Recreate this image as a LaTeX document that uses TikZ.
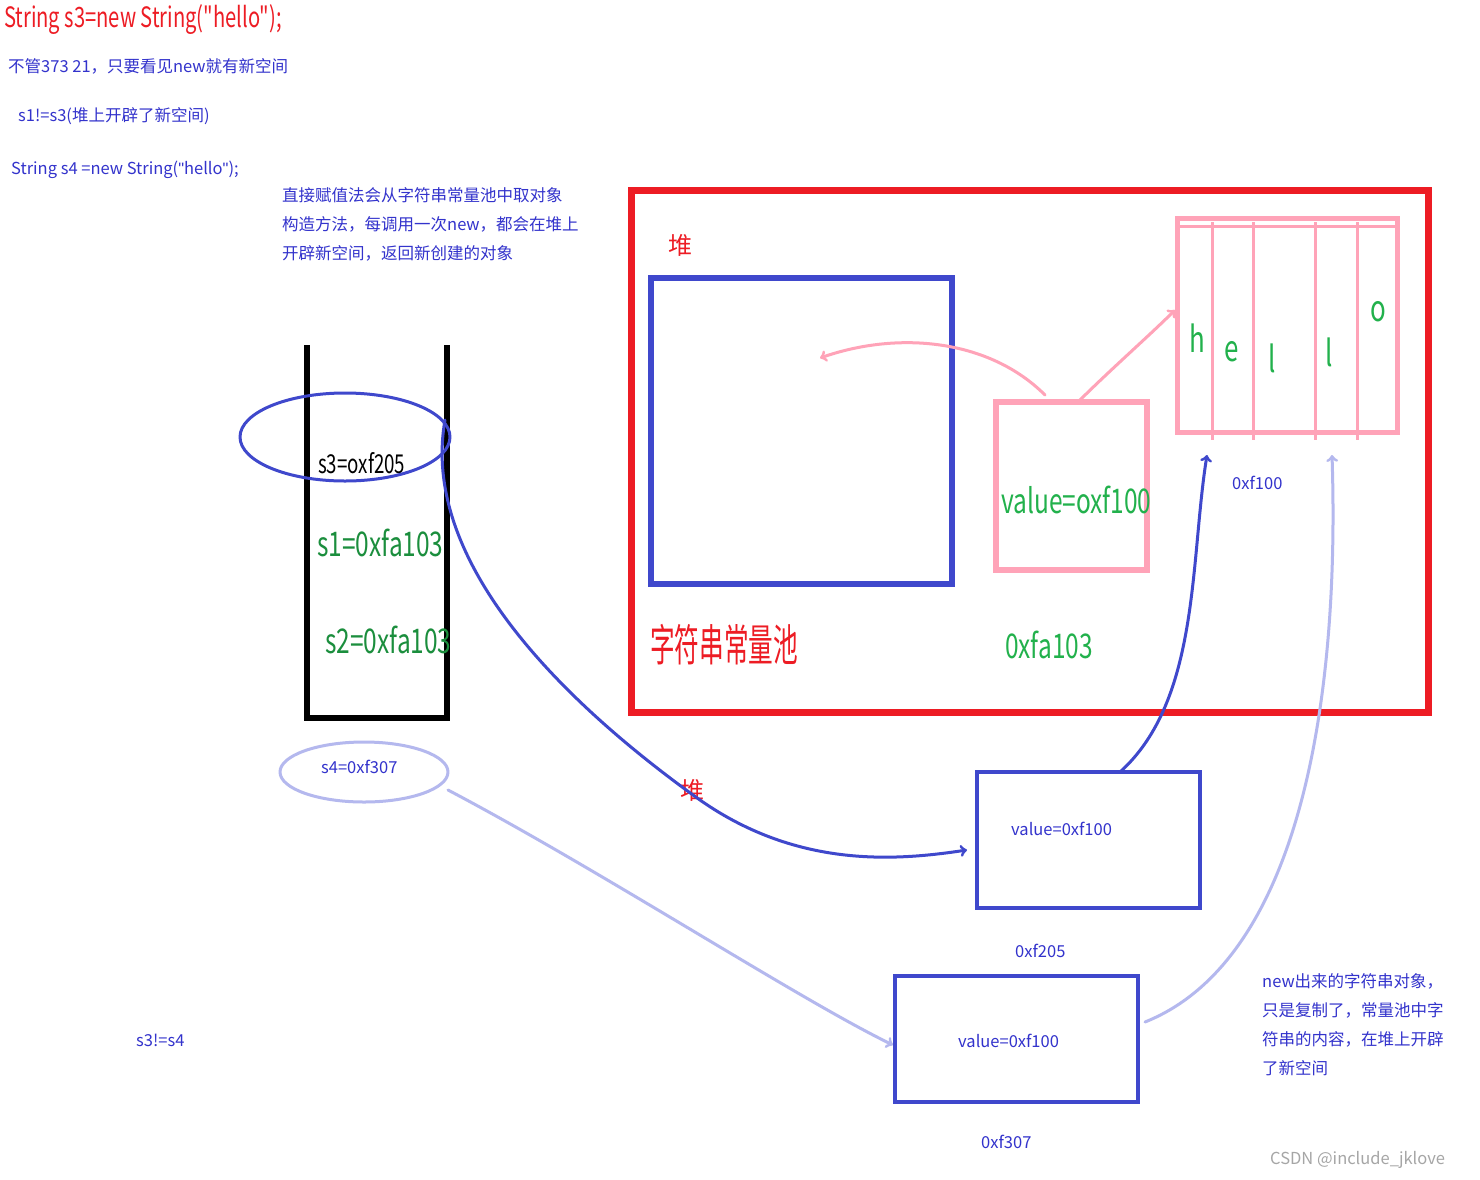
\documentclass[tikz,border=0pt]{standalone}
\usepackage{fontspec}
\setmainfont{Noto Sans CJK SC}
\newfontfamily\cond{Noto Sans CJK SC}[FakeStretch=0.72]
\newfontfamily\condcjk{Noto Sans CJK SC}[FakeStretch=0.56]
\newfontfamily\latn{Liberation Sans}
\usetikzlibrary{positioning}
\definecolor{txtblue}{HTML}{3333CC}
\definecolor{penblue}{HTML}{3F48CC}
\definecolor{lightpen}{HTML}{B4B8EE}
\definecolor{pinkpen}{HTML}{FFA3B8}
\definecolor{redpen}{HTML}{ED1C24}
\definecolor{greenpen}{HTML}{22B14C}
\newcommand{\dq}{\symbol{34}}
\newcommand{\ndq}{{\latn\symbol{34}}}
\tikzset{
  note/.style={anchor=west,inner sep=0pt,text=txtblue,font=\fontsize{16.5}{18}\selectfont},
  big/.style={anchor=west,inner sep=0pt,font=\cond\fontsize{34}{36}\selectfont},
  pen/.style={line width=3pt,line cap=round,line join=round},
}
\begin{document}
\begin{tikzpicture}[x=1pt,y=-1pt]
\useasboundingbox[fill=white] (0,0) rectangle (1480,1179);
% header notes
\node[anchor=west,inner sep=0pt,text=redpen,font=\cond\fontsize{28}{30}\selectfont] (title) at (4,20) {String s3=new String(\dq hello\dq);};
\node[note] (n1) at (8,66) {不管373 21，只要看见new就有新空间};
\node[note] (n2) at (18,116) {s1!=s3(堆上开辟了新空间)};
\node[note] (n3) at (11,170) {String s4 =new String(\ndq hello\ndq);};
\node[note] (n4) at (282,195) {直接赋值法会从字符串常量池中取对象};
\node[note] (n5) at (282,224) {构造方法，每调用一次new，都会在堆上};
\node[note] (n6) at (282,253) {开辟新空间，返回新创建的对象};
% stack
\draw[line width=6pt] (307,345) -- (307,718) -- (447,718) -- (447,345);
\node[anchor=west,inner sep=0pt,font=\cond\fontsize{26}{28}\selectfont] (s3) at (318,463) {s3=oxf205};
\node[big,text=greenpen!80!black] (s1) at (317,543) {s1=0xfa103};
\node[big,text=greenpen!80!black] (s2) at (325,640) {s2=0xfa103};
\draw[penblue,pen] (345,437) ellipse (105 and 44);
% heap
\draw[redpen,line width=7pt] (631,190) rectangle (1428,712);
\node[anchor=west,inner sep=0pt,text=redpen,font=\fontsize{24}{26}\selectfont] (heap) at (668,245) {堆};
\draw[penblue,line width=6pt] (651,278) rectangle (952,584);
\node[big,text=redpen,font=\condcjk\fontsize{44}{46}\selectfont] (pool) at (650,645) {字符串常量池};
\draw[pinkpen,line width=6pt] (996,402) rectangle (1147,570);
\node[big,text=greenpen] (val) at (1001,500) {value=oxf100};
\node[big,text=greenpen] (addr) at (1005,645) {0xfa103};
\draw[pinkpen,line width=5pt] (1177,218) rectangle (1397,432);
\draw[pinkpen,line width=3pt] (1177,226) -- (1397,226);
\foreach \c/\x/\y in {h/1197/338,e/1232/352,l/1272/358,l/1329/352,o/1378/312}
  \node[text=greenpen,font=\cond\fontsize{36}{38}\selectfont] (ch\x) at (\x,\y) {\c};
\foreach \x in {1212,1253,1315,1357}
  \draw[pinkpen,line width=3pt] (\x,222) -- (\x,440);
\node[note] (a100) at (1232,483) {0xf100};
\coordinate (vt1) at (1045,395);
\coordinate (vt2) at (1078,402);
\coordinate (pooltip) at (820,358);
\coordinate (arrtip) at (1175,310);
\draw[pinkpen,pen,->] (vt1) .. controls (990,340) and (900,330) .. (pooltip);
\draw[pinkpen,pen,->] (vt2) .. controls (1110,370) and (1150,335) .. (arrtip);
% objects on heap
\draw[penblue,line width=3.5pt] (977,772) rectangle (1200,908);
\node[note] (o1) at (1011,829) {value=0xf100};
\node[note] (a205) at (1015,951) {0xf205};
\draw[penblue,line width=3.5pt] (895,976) rectangle (1138,1102);
\node[note] (o2) at (958,1041) {value=0xf100};
\node[note] (a307) at (981,1142) {0xf307};
\node[anchor=west,inner sep=0pt,text=redpen,font=\fontsize{24}{26}\selectfont] (heap2) at (680,790) {堆};
% s4
\draw[lightpen,pen] (364,772) ellipse (84 and 30);
\node[note] (s4) at (321,767) {s4=0xf307};
% arrows
\coordinate (s3tail) at (445,420);
\coordinate (o1in) at (967,850);
\coordinate (o1top) at (1120,772);
\coordinate (a100in) at (1207,455);
\coordinate (s4tail) at (448,790);
\coordinate (o2in) at (893,1045);
\coordinate (o2out) at (1145,1022);
\coordinate (arrbot) at (1332,455);
\draw[penblue,pen,->] (s3tail) .. controls (420,560) and (560,700) .. (700,800) .. controls (800,870) and (900,860) .. (o1in);
\draw[penblue,pen,->] (o1top) .. controls (1200,700) and (1190,560) .. (a100in);
\draw[lightpen,pen,->] (s4tail) .. controls (600,870) and (800,1000) .. (o2in);
\draw[lightpen,pen,->] (o2out) .. controls (1300,960) and (1340,700) .. (arrbot);
% side notes
\node[note] (r1) at (1262,981) {new出来的字符串对象，};
\node[note] (r2) at (1262,1010) {只是复制了，常量池中字};
\node[note] (r3) at (1262,1039) {符串的内容，在堆上开辟};
\node[note] (r4) at (1262,1068) {了新空间};
\node[note] (ne) at (136,1040) {s3!=s4};
\node[note,text=gray!70] (mark) at (1270,1160) {CSDN @include\_jklove};
\end{tikzpicture}
\end{document}
